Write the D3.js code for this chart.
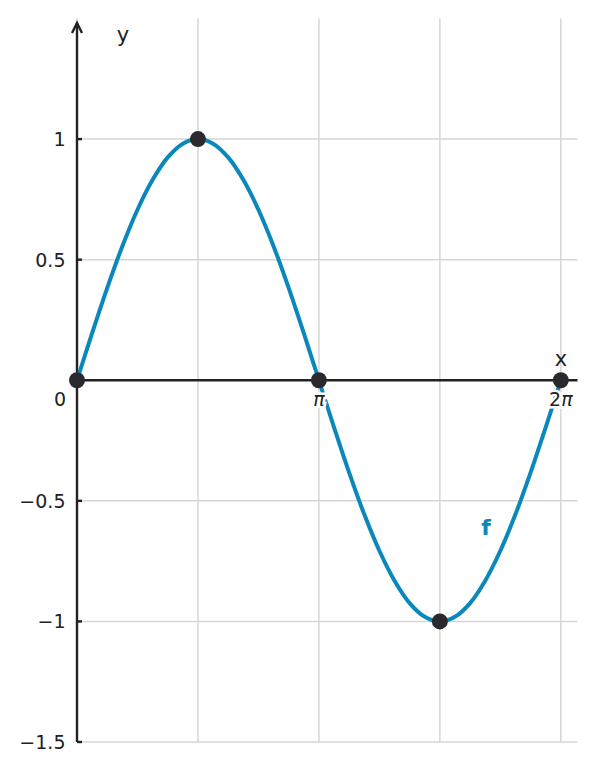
<!DOCTYPE html>
<html>
<head>
<meta charset="utf-8">
<script src="https://cdn.jsdelivr.net/npm/d3@7"></script>
<style>
  body { margin: 0; background: #fff; }
  svg text { font-family: "DejaVu Sans", sans-serif; fill: #222; }
</style>
</head>
<body>
<svg width="595" height="771"></svg>
<script>
// sampled curve, x given in multiples of pi
const curveXPi = [0, 0.0625, 0.125, 0.1875, 0.25, 0.3125, 0.375, 0.4375, 0.5,
  0.5625, 0.625, 0.6875, 0.75, 0.8125, 0.875, 0.9375, 1,
  1.0625, 1.125, 1.1875, 1.25, 1.3125, 1.375, 1.4375, 1.5,
  1.5625, 1.625, 1.6875, 1.75, 1.8125, 1.875, 1.9375, 2];
const curveY = [0, 0.195, 0.383, 0.556, 0.707, 0.831, 0.924, 0.981, 1,
  0.981, 0.924, 0.831, 0.707, 0.556, 0.383, 0.195, 0,
  -0.195, -0.383, -0.556, -0.707, -0.831, -0.924, -0.981, -1,
  -0.981, -0.924, -0.831, -0.707, -0.556, -0.383, -0.195, 0];

// highlighted points
const markXPi = [0, 0.5, 1, 1.5, 2];
const markY = [0, 1, 0, -1, 0];

// grid / ticks
const gridXPi = [0, 0.5, 1, 1.5, 2];
const gridY = [-1.5, -1, -0.5, 0.5, 1];
const yTickLabels = ["−1.5", "−1", "−0.5", "0.5", "1"];
const xTickPi = [1, 2];
const xTickPrefix = ["", "2"];

const svg = d3.select("svg");
const blue = "#0a87bb";
const dark = "#2a2a2e";

const x = d3.scaleLinear().domain([0, 6.5]).range([77, 577.5]);
const y = d3.scaleLinear().domain([-1.5, 1.5]).range([742, 18.5]);

// grid
const grid = svg.append("g").attr("stroke", "#d6d6d6").attr("stroke-width", 1.5);
grid.selectAll(".gx").data(gridXPi).enter().append("line")
    .attr("x1", d => x(d * Math.PI)).attr("x2", d => x(d * Math.PI))
    .attr("y1", y(1.5)).attr("y2", y(-1.5));
grid.selectAll(".gy").data(gridY).enter().append("line")
    .attr("x1", x(0)).attr("x2", x(6.5))
    .attr("y1", d => y(d)).attr("y2", d => y(d));

// x axis line
svg.append("line")
    .attr("x1", x(0)).attr("x2", x(6.5))
    .attr("y1", y(0)).attr("y2", y(0))
    .attr("stroke", "#222").attr("stroke-width", 2.4);

// y axis line with arrow
svg.append("line")
    .attr("x1", x(0)).attr("x2", x(0))
    .attr("y1", y(-1.5)).attr("y2", 23)
    .attr("stroke", "#222").attr("stroke-width", 2.4);
svg.append("path")
    .attr("d", `M${x(0) - 5},${33} L${x(0)},${23} L${x(0) + 5},${33}`)
    .attr("fill", "none").attr("stroke", "#222").attr("stroke-width", 2.4);

// y ticks
svg.selectAll(".yt").data(gridY).enter().append("line")
    .attr("x1", x(0)).attr("x2", x(0) + 5)
    .attr("y1", d => y(d)).attr("y2", d => y(d))
    .attr("stroke", "#222").attr("stroke-width", 2.4);

svg.selectAll(".yl").data(gridY).enter().append("text")
    .attr("x", 65.5).attr("y", d => y(d)).attr("dy", "0.36em")
    .attr("text-anchor", "end").attr("font-size", 19)
    .text((d, i) => yTickLabels[i]);

// curve
const line = d3.line()
    .x((d, i) => x(curveXPi[i] * Math.PI))
    .y(d => y(d))
    .curve(d3.curveCatmullRom);
svg.append("path")
    .datum(curveY)
    .attr("d", line)
    .attr("fill", "none").attr("stroke", blue).attr("stroke-width", 4);

// x tick labels with white halo
const xl = svg.selectAll(".xl").data(xTickPi).enter().append("text")
    .attr("x", d => x(d * Math.PI)).attr("y", 406)
    .attr("text-anchor", "middle").attr("font-size", 19)
    .attr("stroke", "#fff").attr("stroke-width", 5).attr("paint-order", "stroke");
xl.append("tspan").text((d, i) => xTickPrefix[i]);
xl.append("tspan").attr("font-style", "italic").text("π");

svg.append("text").attr("x", 60).attr("y", 406)
    .attr("text-anchor", "middle").attr("font-size", 19).text("0");

// points
svg.selectAll(".pt").data(markY).enter().append("circle")
    .attr("cx", (d, i) => x(markXPi[i] * Math.PI))
    .attr("cy", d => y(d))
    .attr("r", 8).attr("fill", dark);

// axis names
svg.append("text").attr("x", 123).attr("y", 42)
    .attr("text-anchor", "middle").attr("font-size", 21).text("y");
svg.append("text").attr("x", 561).attr("y", 366)
    .attr("text-anchor", "middle").attr("font-size", 21).text("x");

// function label
svg.append("text").attr("x", 486).attr("y", 535)
    .attr("text-anchor", "middle").attr("font-size", 22)
    .attr("font-weight", "bold").style("fill", blue).text("f");
</script>
</body>
</html>
